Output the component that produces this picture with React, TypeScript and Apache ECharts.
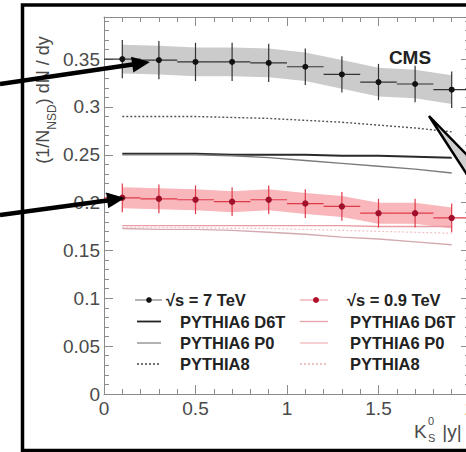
import React, { useEffect, useRef } from "react";
import * as echarts from "echarts";

// ---- data ----
const binCenters = [0.1, 0.3, 0.5, 0.7, 0.9, 1.1, 1.3, 1.5, 1.7, 1.9];
const binHalfWidth = 0.1;

const cms7TeV = [0.35, 0.349, 0.347, 0.347, 0.346, 0.342, 0.334, 0.326, 0.324, 0.318];
const cms7TeVStat = [0.02, 0.02, 0.02, 0.02, 0.02, 0.019, 0.019, 0.019, 0.019, 0.019];
const cms7TeVSyst = [0.015, 0.015, 0.015, 0.015, 0.015, 0.015, 0.015, 0.015, 0.015, 0.015];

const cms09TeV = [0.205, 0.204, 0.203, 0.201, 0.203, 0.199, 0.196, 0.189, 0.189, 0.184];
const cms09TeVStat = [0.015, 0.015, 0.015, 0.015, 0.015, 0.015, 0.015, 0.015, 0.015, 0.015];
const cms09TeVSyst = [0.011, 0.011, 0.011, 0.011, 0.011, 0.011, 0.011, 0.011, 0.011, 0.011];

const d6t7TeV = [0.251, 0.251, 0.251, 0.25, 0.25, 0.25, 0.249, 0.249, 0.248, 0.247];
const p07TeV = [0.25, 0.25, 0.25, 0.249, 0.247, 0.244, 0.241, 0.238, 0.235, 0.231];
const pythia87TeV = [0.29, 0.29, 0.29, 0.289, 0.288, 0.286, 0.284, 0.281, 0.278, 0.274];

const d6t09TeV = [0.176, 0.176, 0.176, 0.176, 0.176, 0.176, 0.176, 0.175, 0.175, 0.175];
const p009TeV = [0.173, 0.172, 0.172, 0.171, 0.169, 0.167, 0.164, 0.162, 0.159, 0.156];
const pythia809TeV = [0.174, 0.174, 0.174, 0.173, 0.173, 0.172, 0.171, 0.17, 0.169, 0.168];

const legendLeft = ["\u221As = 7 TeV", "PYTHIA6 D6T", "PYTHIA6 P0", "PYTHIA8"];
const legendRight = ["\u221As = 0.9 TeV", "PYTHIA6 D6T", "PYTHIA6 P0", "PYTHIA8"];

const FONT = "Liberation Sans, Arial, Helvetica, sans-serif";

function pairs(vals: number[]) {
  return binCenters.map((x, i) => [x, vals[i]]);
}

function arrow(x1: number, y1: number, x2: number, y2: number) {
  const dx = x2 - x1;
  const dy = y2 - y1;
  const len = Math.sqrt(dx * dx + dy * dy);
  const ux = dx / len;
  const uy = dy / len;
  const headLen = 18;
  const headHalf = 8;
  const bx = x2 - ux * headLen;
  const by = y2 - uy * headLen;
  return [
    {
      type: "line",
      z: 200,
      shape: { x1, y1, x2: bx + ux * 2, y2: by + uy * 2 },
      style: { stroke: "#000", lineWidth: 4.5 },
    },
    {
      type: "polygon",
      z: 200,
      shape: {
        points: [
          [x2, y2],
          [bx - uy * headHalf, by + ux * headHalf],
          [bx + uy * headHalf, by - ux * headHalf],
        ],
      },
      style: { fill: "#000" },
    },
  ];
}

function bandRender(vals: number[], errs: number[], fill: string) {
  return (params: any, api: any) => {
    if (params.dataIndex !== 0) return null;
    const upper = binCenters.map((x, i) => api.coord([x, vals[i] + errs[i]]));
    const lower = binCenters.map((x, i) => api.coord([x, vals[i] - errs[i]])).reverse();
    return {
      type: "polygon",
      shape: { points: [...upper, ...lower] },
      style: { fill },
    };
  };
}

function errRender(lineColor: string, markerColor: string, r: number) {
  return (params: any, api: any) => {
    const x = api.value(0);
    const y = api.value(1);
    const e = api.value(2);
    const c = api.coord([x, y]);
    const t = api.coord([x, y + e]);
    const b = api.coord([x, y - e]);
    const l = api.coord([x - binHalfWidth, y]);
    const rr = api.coord([x + binHalfWidth, y]);
    return {
      type: "group",
      children: [
        { type: "line", shape: { x1: c[0], y1: t[1], x2: c[0], y2: b[1] }, style: { stroke: lineColor, lineWidth: 1.2 } },
        { type: "line", shape: { x1: l[0], y1: c[1], x2: rr[0], y2: c[1] }, style: { stroke: lineColor, lineWidth: 1.2 } },
        { type: "circle", shape: { cx: c[0], cy: c[1], r }, style: { fill: markerColor } },
      ],
    };
  };
}

function mcLine(name: string, vals: number[], color: string, width: number, type: any, z: number) {
  return {
    name,
    type: "line",
    data: pairs(vals),
    symbol: "none",
    showSymbol: false,
    z,
    lineStyle: { color, width, type },
  };
}

const axisColor = "#8c8c8c";

function makeXAxis(position: "bottom" | "top") {
  return {
    type: "value",
    gridIndex: 0,
    position,
    min: 0,
    max: 2,
    interval: 0.5,
    axisLine: { show: true, onZero: false, lineStyle: { color: axisColor, width: 1 } },
    axisTick: { show: true, inside: true, length: 9, lineStyle: { color: axisColor, width: 1 } },
    minorTick: { show: true, splitNumber: 5, length: 5, lineStyle: { color: axisColor, width: 1 } },
    splitLine: { show: false },
    axisLabel: {
      show: position === "bottom",
      margin: 5,
      fontSize: 19,
      color: "#4a4a4a",
      fontFamily: FONT,
    },
  };
}

function makeYAxis(position: "left" | "right") {
  return {
    type: "value",
    gridIndex: 0,
    position,
    min: 0,
    max: 0.394,
    interval: 0.05,
    axisLine: { show: true, onZero: false, lineStyle: { color: axisColor, width: 1 } },
    axisTick: { show: true, inside: true, length: 9, lineStyle: { color: axisColor, width: 1 } },
    minorTick: { show: true, splitNumber: 5, length: 5, lineStyle: { color: axisColor, width: 1 } },
    splitLine: { show: false },
    axisLabel: {
      show: position === "left",
      margin: 4,
      fontSize: 19,
      color: "#4a4a4a",
      fontFamily: FONT,
      showMaxLabel: false,
      formatter: (v: number) => {
        const k = Math.round(v / 0.05);
        if (Math.abs(k * 0.05 - v) > 1e-6) return "";
        return String(parseFloat(v.toFixed(2)));
      },
    },
  };
}

function legendGraphics() {
  const rows = [300, 321.5, 343, 364];
  const g: any[] = [];
  const textStyle = (text: string, x: number, y: number) => ({
    type: "text",
    x,
    y,
    z: 150,
    style: {
      text,
      fill: "#222",
      font: `bold 16.5px ${FONT}`,
      verticalAlign: "middle",
      align: "left",
    },
  });
  // left column
  g.push({ type: "line", z: 150, shape: { x1: 135, y1: rows[0], x2: 162, y2: rows[0] }, style: { stroke: "#666", lineWidth: 1 } });
  g.push({ type: "circle", z: 151, shape: { cx: 149, cy: rows[0], r: 2.8 }, style: { fill: "#111" } });
  g.push({ type: "line", z: 150, shape: { x1: 137, y1: rows[1], x2: 161, y2: rows[1] }, style: { stroke: "#222", lineWidth: 1.8 } });
  g.push({ type: "line", z: 150, shape: { x1: 137, y1: rows[2], x2: 161, y2: rows[2] }, style: { stroke: "#888", lineWidth: 1.3 } });
  g.push({ type: "line", z: 150, shape: { x1: 137, y1: rows[3], x2: 161, y2: rows[3] }, style: { stroke: "#444", lineWidth: 1.3, lineDash: [2, 2] } });
  g.push(textStyle(legendLeft[0], 166, rows[0]));
  for (let i = 1; i < 4; i++) g.push(textStyle(legendLeft[i], 180, rows[i]));
  // right column
  g.push({ type: "line", z: 150, shape: { x1: 300, y1: rows[0], x2: 328, y2: rows[0] }, style: { stroke: "#f0a0a8", lineWidth: 1.2 } });
  g.push({ type: "circle", z: 151, shape: { cx: 316, cy: rows[0], r: 3 }, style: { fill: "#b0102a" } });
  g.push({ type: "line", z: 150, shape: { x1: 300, y1: rows[1], x2: 328, y2: rows[1] }, style: { stroke: "#e6a0a6", lineWidth: 1.3 } });
  g.push({ type: "line", z: 150, shape: { x1: 300, y1: rows[2], x2: 328, y2: rows[2] }, style: { stroke: "#f0b8bc", lineWidth: 1.3 } });
  g.push({ type: "line", z: 150, shape: { x1: 300, y1: rows[3], x2: 328, y2: rows[3] }, style: { stroke: "#e8b0b4", lineWidth: 1.3, lineDash: [2, 2] } });
  g.push(textStyle(legendRight[0], 347, rows[0]));
  for (let i = 1; i < 4; i++) g.push(textStyle(legendRight[i], 350, rows[i]));
  return g;
}

export default function App() {
  const ref = useRef<HTMLDivElement>(null);

  useEffect(() => {
    if (!ref.current) return;
    const chart = echarts.init(ref.current, undefined, { renderer: "svg" });

    const option: any = {
      animation: false,
      backgroundColor: "#ffffff",
      grid: { left: 104, top: 17, width: 366, height: 377, containLabel: false },
      xAxis: [makeXAxis("bottom"), makeXAxis("top")],
      yAxis: [makeYAxis("left"), makeYAxis("right")],
      series: [
        {
          name: "7 TeV syst",
          type: "custom",
          z: 1,
          data: [pairs(cms7TeV)[0]],
          renderItem: bandRender(cms7TeV, cms7TeVSyst, "#cbcbcb"),
          silent: true,
        },
        {
          name: "0.9 TeV syst",
          type: "custom",
          z: 1,
          data: [pairs(cms09TeV)[0]],
          renderItem: bandRender(cms09TeV, cms09TeVSyst, "#f9b6bb"),
          silent: true,
        },
        mcLine("PYTHIA6 D6T (7 TeV)", d6t7TeV, "#2a2a2a", 2, "solid", 3),
        mcLine("PYTHIA6 P0 (7 TeV)", p07TeV, "#7a7a7a", 1.4, "solid", 3),
        mcLine("PYTHIA8 (7 TeV)", pythia87TeV, "#555555", 1.4, [2, 2], 3),
        mcLine("PYTHIA6 D6T (0.9 TeV)", d6t09TeV, "#ea9aa2", 1.4, "solid", 3),
        mcLine("PYTHIA6 P0 (0.9 TeV)", p009TeV, "#d4aab0", 1.4, "solid", 3),
        mcLine("PYTHIA8 (0.9 TeV)", pythia809TeV, "#f2c0c4", 1.2, [2, 2], 3),
        {
          name: "\u221As = 7 TeV",
          type: "custom",
          z: 5,
          data: binCenters.map((x, i) => [x, cms7TeV[i], cms7TeVStat[i]]),
          renderItem: errRender("#333", "#111", 3),
        },
        {
          name: "\u221As = 0.9 TeV",
          type: "custom",
          z: 5,
          data: binCenters.map((x, i) => [x, cms09TeV[i], cms09TeVStat[i]]),
          renderItem: errRender("#e03a4a", "#a0102a", 3.2),
        },
      ],
      graphic: [
        // outer frame
        {
          type: "rect",
          z: 190,
          shape: { x: 22.5, y: 5, width: 520, height: 445.5 },
          style: { fill: "none", stroke: "#000", lineWidth: 3.5 },
        },
        // CMS label
        {
          type: "text",
          x: 410,
          y: 57,
          z: 150,
          style: { text: "CMS", font: `bold 19px ${FONT}`, fill: "#222", align: "center", verticalAlign: "middle" },
        },
        // y-axis title
        {
          type: "text",
          x: 43,
          y: 100,
          rotation: Math.PI / 2,
          z: 150,
          style: {
            text: "{m|(1/N}{s|NSD}{m|) dN / dy}",
            align: "center",
            verticalAlign: "middle",
            rich: {
              m: { fontSize: 18, fontFamily: FONT, fill: "#4a4a4a", lineHeight: 30, verticalAlign: "middle" },
              s: { fontSize: 12, fontFamily: FONT, fill: "#4a4a4a", lineHeight: 12, verticalAlign: "bottom" },
            },
          },
        },
        // x-axis title K0S |y|
        {
          type: "text",
          x: 414,
          y: 431,
          z: 150,
          style: { text: "K", font: `19px ${FONT}`, fill: "#4a4a4a", align: "left", verticalAlign: "middle" },
        },
        {
          type: "text",
          x: 428,
          y: 421,
          z: 150,
          style: { text: "0", font: `11px ${FONT}`, fill: "#4a4a4a", align: "left", verticalAlign: "middle" },
        },
        {
          type: "text",
          x: 428,
          y: 438,
          z: 150,
          style: { text: "S", font: `11px ${FONT}`, fill: "#4a4a4a", align: "left", verticalAlign: "middle" },
        },
        {
          type: "text",
          x: 437,
          y: 431,
          z: 150,
          style: { text: " |y|", font: `19px ${FONT}`, fill: "#4a4a4a", align: "left", verticalAlign: "middle" },
        },
        ...legendGraphics(),
        // annotation arrows
        ...arrow(0, 84, 150, 62),
        ...arrow(0, 215, 125, 198),
        // right callout wedge
        {
          type: "polygon",
          z: 200,
          shape: { points: [[429, 116], [468, 156], [468, 176]] },
          style: { fill: "#cfcfcf", stroke: "#000", lineWidth: 2.5, lineJoin: "miter" },
        },
      ],
    };

    chart.setOption(option);
    return () => {
      chart.dispose();
    };
  }, []);

  return (
    <div
      style={{
        position: "fixed",
        left: 0,
        top: 0,
        width: 466,
        height: 452,
        overflow: "hidden",
        background: "#fff",
      }}
    >
      <div ref={ref} style={{ width: 480, height: 452 }} />
    </div>
  );
}
